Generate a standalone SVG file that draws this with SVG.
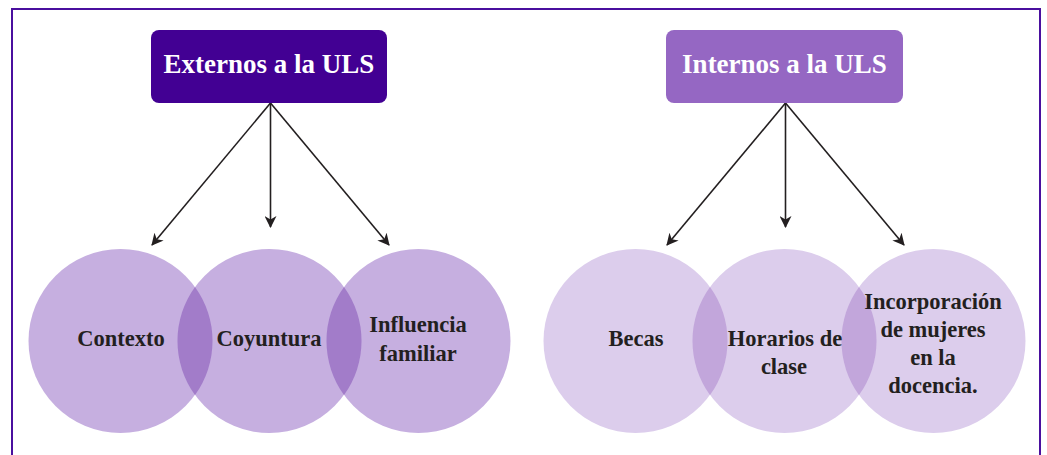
<svg xmlns="http://www.w3.org/2000/svg" width="1047" height="455" viewBox="0 0 1047 455">
<style>
.hdr{font-family:"Liberation Serif","Times New Roman",serif;font-weight:bold;font-size:27px;fill:#ffffff;text-anchor:middle}
.lbl{font-family:"Liberation Serif","Times New Roman",serif;font-weight:bold;font-size:22.5px;fill:#231f20;text-anchor:middle}
.conn{stroke:#231f20;stroke-width:1.6;fill:none}
</style>
<defs>
<marker id="ah" viewBox="0 0 12 12" refX="11" refY="6" markerWidth="12" markerHeight="12" markerUnits="userSpaceOnUse" orient="auto">
<path d="M0,0 L12,6 L0,12 L3.5,6 Z" fill="#231f20"/>
</marker>
</defs>
<rect x="0" y="0" width="1047" height="455" fill="#ffffff"/>
<rect x="12" y="9" width="1028" height="460" fill="none" stroke="#4a0f9e" stroke-width="2"/>

<g id="connectors">
<line class="conn" x1="270.5" y1="103" x2="152" y2="245" marker-end="url(#ah)"/>
<line class="conn" x1="270.5" y1="103" x2="270.5" y2="227" marker-end="url(#ah)"/>
<line class="conn" x1="270.5" y1="103" x2="389" y2="245" marker-end="url(#ah)"/>
<line class="conn" x1="785.5" y1="103" x2="667" y2="245" marker-end="url(#ah)"/>
<line class="conn" x1="785.5" y1="103" x2="785.5" y2="227" marker-end="url(#ah)"/>
<line class="conn" x1="785.5" y1="103" x2="904" y2="245" marker-end="url(#ah)"/>
</g>

<g id="externos">
<rect x="151" y="30" width="236" height="73" rx="8" fill="#420093"/>
<text class="hdr" x="269" y="73">Externos a la ULS</text>
</g>
<g id="internos">
<rect x="666" y="30" width="237" height="73" rx="8" fill="#9567c3"/>
<text class="hdr" x="784.5" y="73">Internos a la ULS</text>
</g>

<g id="contexto">
<circle cx="120.5" cy="341" r="92" fill="#c6afe0"/>
</g>
<g id="coyuntura">
<circle cx="269.5" cy="341" r="92" fill="#c6afe0"/>
</g>
<g id="influencia">
<circle cx="418.5" cy="341" r="92" fill="#c6afe0"/>
</g>
<g id="overlaps-left">
<path d="M195,287 A92,92 0 0 1 195,395 A92,92 0 0 1 195,287 Z" fill="#a27cc9"/>
<path d="M344,287 A92,92 0 0 1 344,395 A92,92 0 0 1 344,287 Z" fill="#a27cc9"/>
</g>
<g id="labels-left">
<text class="lbl" x="121" y="346">Contexto</text>
<text class="lbl" x="269" y="346">Coyuntura</text>
<text class="lbl" x="418" y="332">Influencia</text>
<text class="lbl" x="418" y="360.5">familiar</text>
</g>

<g id="becas">
<circle cx="635.5" cy="341" r="92" fill="#dccdec"/>
</g>
<g id="horarios">
<circle cx="784.5" cy="341" r="92" fill="#dccdec"/>
</g>
<g id="incorporacion">
<circle cx="933.5" cy="341" r="92" fill="#dccdec"/>
</g>
<g id="overlaps-right">
<path d="M710,287 A92,92 0 0 1 710,395 A92,92 0 0 1 710,287 Z" fill="#c2a6db"/>
<path d="M859,287 A92,92 0 0 1 859,395 A92,92 0 0 1 859,287 Z" fill="#c2a6db"/>
</g>
<g id="labels-right">
<text class="lbl" x="636" y="346">Becas</text>
<text class="lbl" x="785" y="346">Horarios de</text>
<text class="lbl" x="784" y="374">clase</text>
<text class="lbl" x="933" y="308.5">Incorporación</text>
<text class="lbl" x="933" y="337">de mujeres</text>
<text class="lbl" x="933" y="365">en la</text>
<text class="lbl" x="933" y="393">docencia.</text>
</g>
</svg>
